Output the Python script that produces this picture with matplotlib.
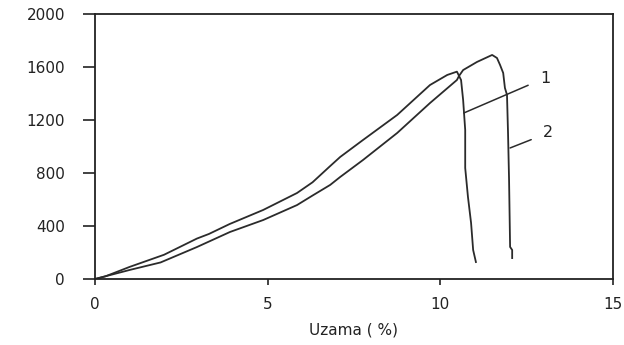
import matplotlib.pyplot as plt

# curve 1 (breaks first, ~10.5 %)
x1 = [0, 0.3, 1.0, 2.0, 2.95, 3.3, 3.9, 4.87, 5.85, 6.3, 6.8, 7.1, 7.76, 8.75, 9.7, 10.2, 10.48,
      10.60, 10.66, 10.72, 10.72, 10.80, 10.89, 10.95, 11.03]
y1 = [0, 20, 91, 183, 305, 340, 415, 521, 649, 730, 850, 921, 1049, 1238, 1464, 1540, 1565,
      1502, 1351, 1125, 838, 619, 423, 219, 128]

# curve 2 (breaks at ~12 %)
x2 = [0, 1.0, 1.9, 2.95, 3.91, 4.87, 5.85, 6.3, 6.81, 7.1, 7.76, 8.75, 9.7, 10.48, 10.54, 10.66,
      11.06, 11.50, 11.64, 11.73, 11.82, 11.87, 11.93, 11.96, 11.99, 12.02, 12.08, 12.08]
y2 = [0, 68, 125, 241, 355, 445, 558, 630, 710, 770, 898, 1102, 1328, 1502, 1532, 1577,
      1638, 1691, 1668, 1615, 1555, 1442, 1390, 1102, 747, 242, 219, 158]

xticks = [0, 5, 10, 15]
yticks = [0, 400, 800, 1200, 1600, 2000]

fig = plt.figure(figsize=(6.24, 3.45), dpi=100)
ax = fig.add_axes([0.1522, 0.1913, 0.8302, 0.7681])

col = '#2b2b2b'
ax.plot(x1, y1, color=col, lw=1.3)
ax.plot(x2, y2, color=col, lw=1.3)

# leader lines with labels
ax.annotate('1', xy=(10.68, 1253), xytext=(13.03, 1517), ha='center', va='center',
            fontsize=11.5, color='#222222',
            arrowprops=dict(arrowstyle='-', color=col, lw=1.1, shrinkA=7, shrinkB=0))
ax.annotate('2', xy=(12.02, 989), xytext=(13.12, 1102), ha='center', va='center',
            fontsize=11.5, color='#222222',
            arrowprops=dict(arrowstyle='-', color=col, lw=1.1, shrinkA=7, shrinkB=0))

ax.set_xlim(0, 15)
ax.set_ylim(0, 2000)
ax.set_xticks(xticks)
ax.set_yticks(yticks)
ax.tick_params(axis='y', length=8.5, width=1.2, pad=13, labelsize=11, colors='#222222')
ax.tick_params(axis='x', length=4.3, width=1.2, pad=9, labelsize=11, colors='#222222')
for s in ax.spines.values():
    s.set_linewidth(1.3)
    s.set_color('#222222')

ax.set_xlabel('Uzama ( %)', fontsize=11, color='#222222', labelpad=7)

fig.savefig('out.png', dpi=100)
